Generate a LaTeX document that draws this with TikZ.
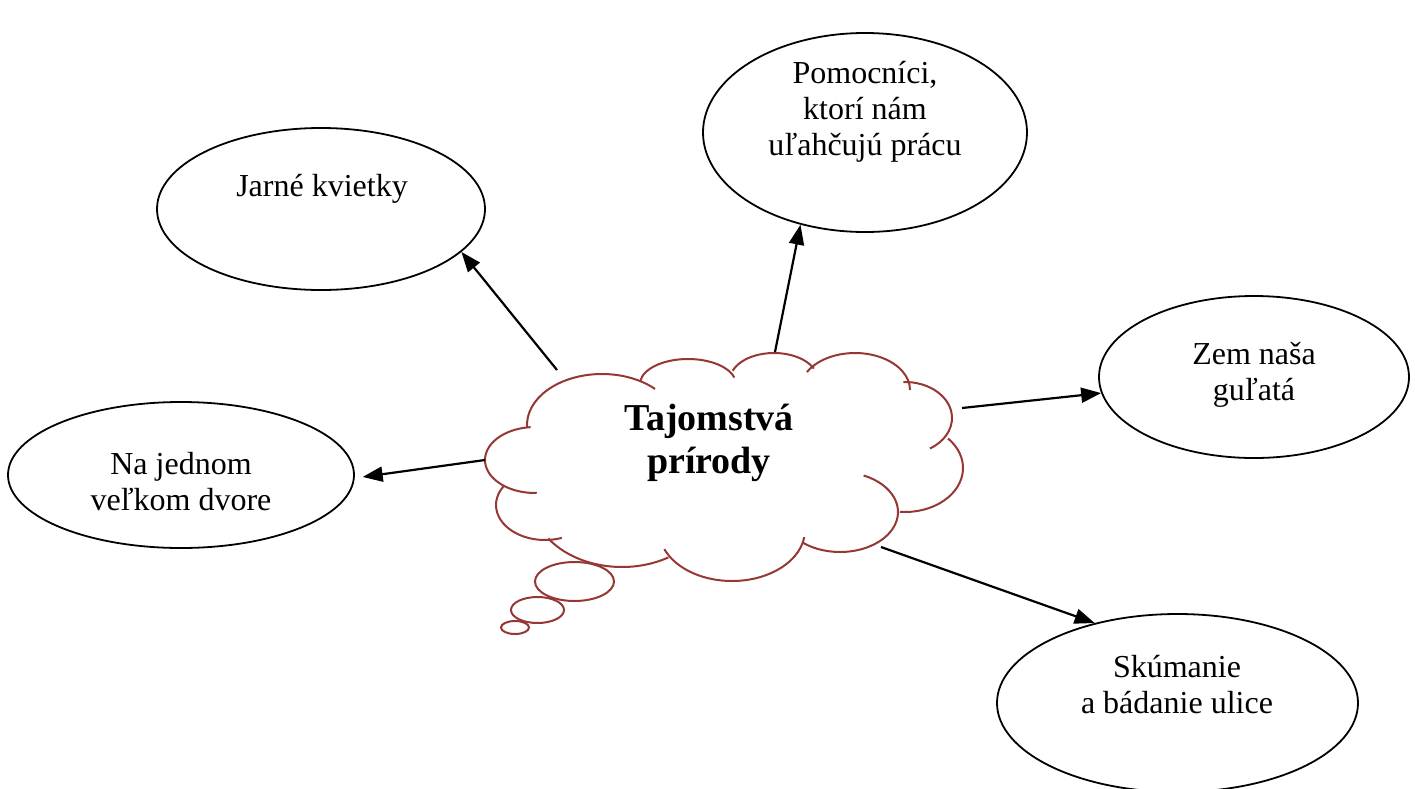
\documentclass[tikz,border=0pt]{standalone}
\usepackage{fontspec}
\setmainfont{Liberation Serif}
\usetikzlibrary{arrows.meta,shapes.geometric}
\definecolor{cloudred}{RGB}{149,55,53}
\newcommand{\cloudarc}[6]{%
  \draw[cloudline] ({#1+#3*cos(#5)},{#2+#4*sin(#5)}) arc[start angle=#5,end angle=#6,x radius=#3,y radius=#4];}
\tikzset{
  cloudline/.style={draw=cloudred,line width=1pt},
  bubble/.style={ellipse,draw=cloudred,line width=1pt,fill=white,inner sep=0pt},
  topic/.style={ellipse,draw=black,line width=0.9pt,inner sep=0pt},
  lbl/.style={font=\fontsize{16}{18}\selectfont,inner sep=0pt,align=center},
  title/.style={font=\fontsize{19}{21.5}\selectfont\bfseries,inner sep=0pt,align=center},
  link/.style={line width=1.1pt,-{Triangle[length=10pt,width=7.5pt]}}
}
\begin{document}
\begin{tikzpicture}[x=0.5pt,y=-0.5pt]
\useasboundingbox (0,0) rectangle (1415,788);
% topic ellipses
\node[topic,minimum width=164pt,minimum height=81pt] (jarne) at (321,209) {};
\node[topic,minimum width=162pt,minimum height=99.5pt] (pomoc) at (865,132.5) {};
\node[topic,minimum width=155pt,minimum height=81pt] (zem) at (1254,377) {};
\node[topic,minimum width=173pt,minimum height=73pt] (najed) at (181,475) {};
\node[topic,minimum width=180.5pt,minimum height=89pt] (skum) at (1177.5,703) {};
% labels (base = baseline of the last line)
\node[lbl,anchor=base] (t-jar) at (322,196) {Jarné kvietky};
\node[lbl,anchor=base] (t-pom) at (865,155) {Pomocníci,\\ktorí nám\\uľahčujú prácu};
\node[lbl,anchor=base] (t-zem) at (1254,400) {Zem naša\\guľatá};
\node[lbl,anchor=base] (t-naj) at (181,510) {Na jednom\\veľkom dvore};
\node[lbl,anchor=base] (t-sku) at (1177,713) {Skúmanie\\a bádanie ulice};
% cloud
\cloudarc{602}{425}{75}{51}{178}{315}
\cloudarc{688}{384}{48}{25}{185}{345}
\cloudarc{774}{380}{44}{27}{200}{335}
\cloudarc{855}{390}{55}{37}{209}{360}
\cloudarc{905}{418}{47}{36}{268}{418}
\cloudarc{905}{468}{58}{44}{-42}{95}
\cloudarc{840}{512}{58}{40}{-66}{130}
\cloudarc{732}{530}{73}{51}{8}{158}
\cloudarc{622}{500}{90}{67}{59}{145}
\cloudarc{545}{505}{49}{35}{70}{212}
\cloudarc{535}{460}{50}{33}{265}{88}
\node[bubble,minimum width=39.5pt,minimum height=19.5pt] (b1) at (574.5,581.5) {};
\node[bubble,minimum width=26.5pt,minimum height=13pt] (b2) at (537.5,610) {};
\node[bubble,minimum width=14pt,minimum height=6.5pt] (b3) at (515,627.5) {};
\node[title,anchor=base] (title) at (709,473) {Tajomstvá\\prírody};
% connector start points on the cloud
\coordinate (c-jar) at (557,370);
\coordinate (c-pom) at (775,352);
\coordinate (c-zem) at (962,408);
\coordinate (c-naj) at (485,460);
\coordinate (c-sku) at (881,547);
% connectors
\draw[link] (c-jar) -- (jarne.-17);
\draw[link] (c-pom) -- (pomoc.235);
\draw[link] (c-zem) -- (zem.186);
\draw[link,shorten >=4pt] (c-naj) -- (najed.-1);
\draw[link] (c-sku) -- (skum.136);
\end{tikzpicture}
\end{document}
